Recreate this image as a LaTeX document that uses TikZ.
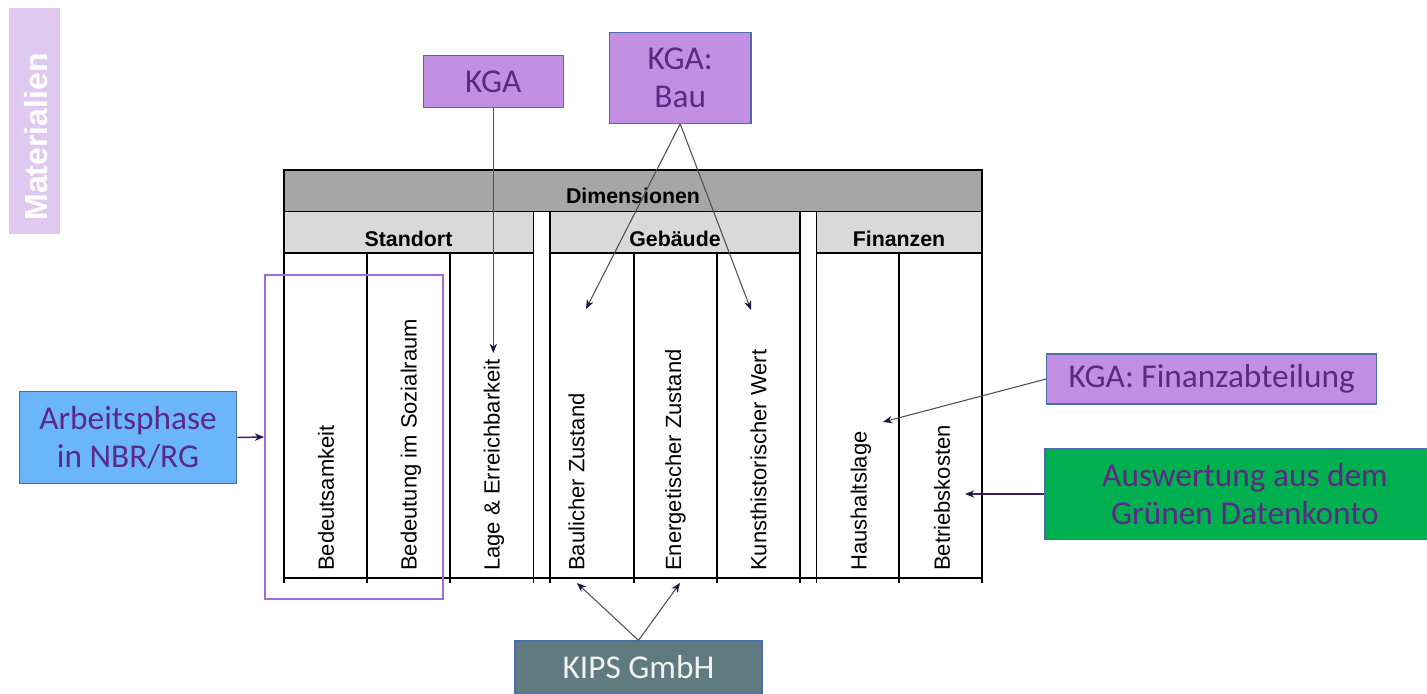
\documentclass[tikz,border=0pt]{standalone}
\usepackage{fontspec}
\setmainfont{Carlito}
\newfontfamily\arialf{Liberation Sans}
\usetikzlibrary{arrows.meta}
\definecolor{kgafill}{HTML}{C28FE2}
\definecolor{bordblue}{HTML}{4A6DB0}
\definecolor{txtpurple}{HTML}{5A2A85}
\definecolor{arbfill}{HTML}{6BB6FA}
\definecolor{greenfill}{HTML}{00B050}
\definecolor{kipsfill}{HTML}{5F7B7F}
\definecolor{kipstext}{HTML}{F2F2F2}
\definecolor{matfill}{HTML}{E0C9F0}
\definecolor{selpurple}{HTML}{A06BE0}
\definecolor{hdrdark}{HTML}{A6A6A6}
\definecolor{hdrlight}{HTML}{D9D9D9}
\definecolor{arrline}{HTML}{505050}
\definecolor{arrtip}{HTML}{1E1240}
\definecolor{darkarr}{HTML}{3A1F5C}
\begin{document}
\begin{tikzpicture}[x=0.75pt,y=-0.75pt,
  box/.style={draw=bordblue, line width=0.9pt, text=txtpurple, align=center, inner sep=0pt,
    font=\fontsize{25}{29}\selectfont},
  kgabox/.style={box, fill=kgafill},
  tbl/.style={draw=black, line width=1.4pt},
  hdrtxt/.style={inner sep=0pt, font=\arialf\bfseries\fontsize{16}{19}\selectfont},
  coltext/.style={rotate=90, anchor=west, inner sep=0pt, font=\arialf\fontsize{16.5}{20}\selectfont},
  garr/.style={draw=arrline, line width=0.8pt, -{Stealth[length=7pt,width=5.5pt,color=arrtip]}},
  darr/.style={draw=darkarr, line width=1.1pt, -{Stealth[length=7pt,width=5.5pt,color=arrtip]}}
]
\useasboundingbox (0,0) rectangle (1427,693);

% Materialien tab
\node[fill=matfill, rotate=90, minimum width=169.5pt, minimum height=38.25pt, inner sep=0pt] (mat) at (34.8,121) {};
\node[rotate=90, inner sep=0pt, text=white, font=\arialf\bfseries\fontsize{24}{28}\selectfont] (mattxt) at (36.5,137) {Materialien};

% table header
\draw[tbl, fill=hdrdark] (284,170) rectangle (982,211.5);
\draw[tbl, fill=hdrlight] (284,211.5) rectangle (533.5,253);
\draw[tbl, fill=hdrlight] (550.3,211.5) rectangle (800,253);
\draw[tbl, fill=hdrlight] (816.5,211.5) rectangle (982,253);
\foreach \xx in {284,367.4,450.4,533.5,550.3,634,717,800,816.5,899,982}
  \draw[tbl] (\xx,253) -- (\xx,583);
\draw[tbl] (284,578) -- (982,578);

\node[hdrtxt] (dimt) at (633,195.5) {Dimensionen};
\node[hdrtxt] (stdt) at (408.5,238.5) {Standort};
\node[hdrtxt] (gebt) at (675,238.5) {Gebäude};
\node[hdrtxt] (fint) at (899,238.5) {Finanzen};

% column texts
\node[coltext] (c1) at (326,571) {Bedeutsamkeit};
\node[coltext] (c2) at (411,571) {Bedeutung im Sozialraum};
\node[coltext] (c3) at (494,571) {Lage \& Erreichbarkeit};
\node[coltext] (c4) at (576.5,571) {Baulicher Zustand};
\node[coltext] (c5) at (675.5,571) {Energetischer Zustand};
\node[coltext] (c6) at (758.5,571) {Kunsthistorischer Wert};
\node[coltext] (c7) at (861,571) {Haushaltslage};
\node[coltext] (c8) at (942,571) {Betriebskosten};

% selection rectangle
\node[draw=selpurple, line width=1.5pt, minimum width=133.1pt, minimum height=242.6pt, inner sep=0pt] (sel) at (353.9,437) {};

% boxes
\node[kgabox, minimum width=105pt, minimum height=39pt] (kga) at (493.3,81.5) {KGA};
\node[kgabox, minimum width=106.3pt, minimum height=68.25pt] (kgabau) at (680.2,77.8) {KGA:\\Bau};
\node[kgabox, minimum width=247.5pt, minimum height=37.5pt] (kgafin) at (1211.7,379) {KGA: Finanzabteilung};
\node[box, fill=greenfill, minimum width=300pt, minimum height=68.25pt] (gdk) at (1245,494) {Auswertung aus dem\\Grünen Datenkonto};
\node[box, fill=arbfill, minimum width=163pt, minimum height=68.7pt] (arb) at (128,437.5) {Arbeitsphase\\in NBR/RG};
\node[box, fill=kipsfill, text=kipstext, minimum width=185.25pt, minimum height=39.75pt] (kips) at (638.5,667.5) {KIPS GmbH};

% arrow targets
\coordinate (tlage) at (493.3,353);
\coordinate (tbaul) at (586,309);
\coordinate (tkunst) at (751,310);
\coordinate (thaus) at (883,422);
\coordinate (tbetr) at (965,494);
\coordinate (tkb) at (577,583);
\coordinate (tke) at (680,583);

% connectors
\draw[garr] (kga.south) -- (tlage);
\draw[garr] (kgabau.south) -- (tbaul);
\draw[garr] (kgabau.south) -- (tkunst);
\draw[garr] (kgafin.west) -- (thaus);
\draw[darr] (gdk.west) -- (tbetr);
\draw[darr] (arb.east) -- (sel.west);
\draw[garr] (kips.north) -- (tkb);
\draw[garr] (kips.north) -- (tke);
\end{tikzpicture}
\end{document}
